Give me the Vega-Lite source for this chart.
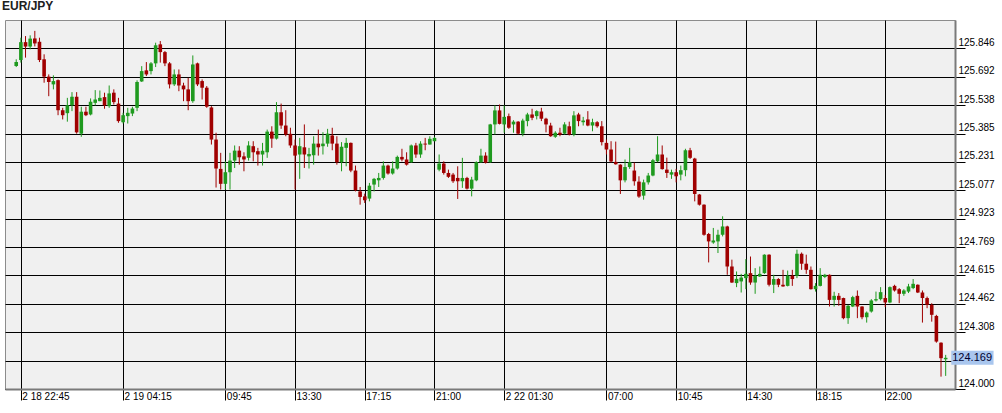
{
  "$schema": "https://vega.github.io/schema/vega-lite/v6.json",
  "width": 950,
  "height": 369,
  "autosize": {"type": "none"},
  "padding": {"left": 5, "top": 20, "right": 47, "bottom": 24},
  "background": "#ffffff",
  "title": {"text": "EUR/JPY", "anchor": "start", "font": "Liberation Sans", "fontSize": 12, "fontWeight": "bold", "color": "#202020", "offset": 7, "dx": -3},
  "config": {
    "view": {"fill": "#f0f0f0", "stroke": "#8c8c8c", "strokeWidth": 1},
    "axis": {"labelFont": "Liberation Sans", "labelFontSize": 10, "labelColor": "#000000", "gridColor": "#000000", "gridOpacity": 1, "gridWidth": 1, "tickColor": "#000000", "tickWidth": 1, "title": null}
  },
  "data": {"values": [
    {"i":0,"o":125.751,"h":125.787,"l":125.745,"c":125.772},
    {"i":1,"o":125.783,"h":125.904,"l":125.769,"c":125.880},
    {"i":2,"o":125.880,"h":125.913,"l":125.796,"c":125.856},
    {"i":3,"o":125.856,"h":125.917,"l":125.841,"c":125.899},
    {"i":4,"o":125.900,"h":125.941,"l":125.857,"c":125.873},
    {"i":5,"o":125.882,"h":125.904,"l":125.772,"c":125.783},
    {"i":6,"o":125.787,"h":125.814,"l":125.660,"c":125.693},
    {"i":7,"o":125.693,"h":125.705,"l":125.587,"c":125.664},
    {"i":8,"o":125.651,"h":125.700,"l":125.624,"c":125.669},
    {"i":9,"o":125.674,"h":125.678,"l":125.484,"c":125.511},
    {"i":10,"o":125.511,"h":125.524,"l":125.461,"c":125.484},
    {"i":11,"o":125.495,"h":125.578,"l":125.449,"c":125.538},
    {"i":12,"o":125.538,"h":125.609,"l":125.506,"c":125.584},
    {"i":13,"o":125.584,"h":125.609,"l":125.384,"c":125.391},
    {"i":14,"o":125.384,"h":125.530,"l":125.367,"c":125.503},
    {"i":15,"o":125.503,"h":125.530,"l":125.479,"c":125.484},
    {"i":16,"o":125.488,"h":125.575,"l":125.483,"c":125.557},
    {"i":17,"o":125.551,"h":125.620,"l":125.537,"c":125.569},
    {"i":18,"o":125.560,"h":125.618,"l":125.560,"c":125.578},
    {"i":19,"o":125.582,"h":125.606,"l":125.519,"c":125.537},
    {"i":20,"o":125.533,"h":125.645,"l":125.524,"c":125.602},
    {"i":21,"o":125.606,"h":125.624,"l":125.542,"c":125.555},
    {"i":22,"o":125.547,"h":125.578,"l":125.443,"c":125.452},
    {"i":23,"o":125.446,"h":125.497,"l":125.439,"c":125.484},
    {"i":24,"o":125.479,"h":125.524,"l":125.439,"c":125.497},
    {"i":25,"o":125.493,"h":125.530,"l":125.479,"c":125.520},
    {"i":26,"o":125.524,"h":125.673,"l":125.506,"c":125.664},
    {"i":27,"o":125.667,"h":125.750,"l":125.664,"c":125.723},
    {"i":28,"o":125.727,"h":125.772,"l":125.696,"c":125.705},
    {"i":29,"o":125.723,"h":125.772,"l":125.705,"c":125.765},
    {"i":30,"o":125.765,"h":125.877,"l":125.745,"c":125.863},
    {"i":31,"o":125.868,"h":125.886,"l":125.769,"c":125.826},
    {"i":32,"o":125.826,"h":125.832,"l":125.750,"c":125.765},
    {"i":33,"o":125.765,"h":125.772,"l":125.629,"c":125.651},
    {"i":34,"o":125.651,"h":125.732,"l":125.642,"c":125.705},
    {"i":35,"o":125.705,"h":125.732,"l":125.614,"c":125.645},
    {"i":36,"o":125.645,"h":125.660,"l":125.560,"c":125.624},
    {"i":37,"o":125.624,"h":125.687,"l":125.511,"c":125.560},
    {"i":38,"o":125.560,"h":125.808,"l":125.551,"c":125.759},
    {"i":39,"o":125.765,"h":125.769,"l":125.642,"c":125.651},
    {"i":40,"o":125.669,"h":125.678,"l":125.569,"c":125.633},
    {"i":41,"o":125.633,"h":125.642,"l":125.524,"c":125.530},
    {"i":42,"o":125.526,"h":125.533,"l":125.325,"c":125.352},
    {"i":43,"o":125.352,"h":125.389,"l":125.092,"c":125.195},
    {"i":44,"o":125.193,"h":125.280,"l":125.081,"c":125.112},
    {"i":45,"o":125.112,"h":125.234,"l":125.081,"c":125.175},
    {"i":46,"o":125.175,"h":125.280,"l":125.081,"c":125.238},
    {"i":47,"o":125.238,"h":125.320,"l":125.198,"c":125.292},
    {"i":48,"o":125.292,"h":125.316,"l":125.216,"c":125.256},
    {"i":49,"o":125.261,"h":125.283,"l":125.180,"c":125.244},
    {"i":50,"o":125.253,"h":125.343,"l":125.238,"c":125.320},
    {"i":51,"o":125.316,"h":125.343,"l":125.234,"c":125.283},
    {"i":52,"o":125.289,"h":125.307,"l":125.211,"c":125.271},
    {"i":53,"o":125.271,"h":125.334,"l":125.211,"c":125.292},
    {"i":54,"o":125.283,"h":125.406,"l":125.253,"c":125.395},
    {"i":55,"o":125.395,"h":125.424,"l":125.307,"c":125.357},
    {"i":56,"o":125.357,"h":125.555,"l":125.352,"c":125.500},
    {"i":57,"o":125.500,"h":125.547,"l":125.410,"c":125.428},
    {"i":58,"o":125.428,"h":125.511,"l":125.370,"c":125.379},
    {"i":59,"o":125.383,"h":125.416,"l":125.307,"c":125.320},
    {"i":60,"o":125.320,"h":125.352,"l":125.081,"c":125.265},
    {"i":61,"o":125.271,"h":125.361,"l":125.139,"c":125.316},
    {"i":62,"o":125.310,"h":125.434,"l":125.198,"c":125.271},
    {"i":63,"o":125.261,"h":125.307,"l":125.195,"c":125.274},
    {"i":64,"o":125.267,"h":125.370,"l":125.216,"c":125.330},
    {"i":65,"o":125.330,"h":125.406,"l":125.265,"c":125.310},
    {"i":66,"o":125.316,"h":125.392,"l":125.271,"c":125.330},
    {"i":67,"o":125.330,"h":125.410,"l":125.313,"c":125.384},
    {"i":68,"o":125.374,"h":125.416,"l":125.294,"c":125.330},
    {"i":69,"o":125.330,"h":125.370,"l":125.216,"c":125.229},
    {"i":70,"o":125.229,"h":125.338,"l":125.180,"c":125.313},
    {"i":71,"o":125.307,"h":125.361,"l":125.207,"c":125.334},
    {"i":72,"o":125.334,"h":125.336,"l":125.175,"c":125.184},
    {"i":73,"o":125.184,"h":125.211,"l":125.071,"c":125.077},
    {"i":74,"o":125.071,"h":125.095,"l":124.999,"c":125.041},
    {"i":75,"o":125.044,"h":125.059,"l":125.008,"c":125.023},
    {"i":76,"o":125.032,"h":125.117,"l":125.017,"c":125.102},
    {"i":77,"o":125.108,"h":125.144,"l":125.071,"c":125.139},
    {"i":78,"o":125.131,"h":125.171,"l":125.095,"c":125.144},
    {"i":79,"o":125.144,"h":125.234,"l":125.135,"c":125.211},
    {"i":80,"o":125.211,"h":125.216,"l":125.162,"c":125.168},
    {"i":81,"o":125.168,"h":125.234,"l":125.162,"c":125.195},
    {"i":82,"o":125.195,"h":125.265,"l":125.189,"c":125.258},
    {"i":83,"o":125.258,"h":125.302,"l":125.234,"c":125.244},
    {"i":84,"o":125.244,"h":125.283,"l":125.211,"c":125.216},
    {"i":85,"o":125.229,"h":125.325,"l":125.226,"c":125.320},
    {"i":86,"o":125.320,"h":125.334,"l":125.253,"c":125.271},
    {"i":87,"o":125.271,"h":125.343,"l":125.253,"c":125.330},
    {"i":88,"o":125.330,"h":125.361,"l":125.294,"c":125.325},
    {"i":89,"o":125.325,"h":125.370,"l":125.325,"c":125.356},
    {"i":90,"o":125.343,"h":125.367,"l":125.343,"c":125.361},
    {"i":91,"o":125.189,"h":125.271,"l":125.180,"c":125.222},
    {"i":92,"o":125.222,"h":125.234,"l":125.162,"c":125.171},
    {"i":93,"o":125.171,"h":125.189,"l":125.144,"c":125.150},
    {"i":94,"o":125.162,"h":125.171,"l":125.117,"c":125.126},
    {"i":95,"o":125.144,"h":125.207,"l":125.030,"c":125.126},
    {"i":96,"o":125.126,"h":125.253,"l":125.090,"c":125.144},
    {"i":97,"o":125.144,"h":125.150,"l":125.081,"c":125.086},
    {"i":98,"o":125.086,"h":125.150,"l":125.044,"c":125.135},
    {"i":99,"o":125.131,"h":125.234,"l":125.126,"c":125.229},
    {"i":100,"o":125.229,"h":125.302,"l":125.226,"c":125.265},
    {"i":101,"o":125.265,"h":125.283,"l":125.222,"c":125.226},
    {"i":102,"o":125.229,"h":125.437,"l":125.226,"c":125.434},
    {"i":103,"o":125.434,"h":125.537,"l":125.379,"c":125.510},
    {"i":104,"o":125.510,"h":125.542,"l":125.434,"c":125.437},
    {"i":105,"o":125.434,"h":125.537,"l":125.389,"c":125.475},
    {"i":106,"o":125.479,"h":125.493,"l":125.410,"c":125.416},
    {"i":107,"o":125.434,"h":125.457,"l":125.389,"c":125.449},
    {"i":108,"o":125.449,"h":125.452,"l":125.379,"c":125.384},
    {"i":109,"o":125.384,"h":125.465,"l":125.370,"c":125.455},
    {"i":110,"o":125.452,"h":125.497,"l":125.424,"c":125.488},
    {"i":111,"o":125.488,"h":125.519,"l":125.457,"c":125.470},
    {"i":112,"o":125.479,"h":125.511,"l":125.461,"c":125.506},
    {"i":113,"o":125.504,"h":125.524,"l":125.452,"c":125.465},
    {"i":114,"o":125.465,"h":125.470,"l":125.391,"c":125.434},
    {"i":115,"o":125.428,"h":125.443,"l":125.367,"c":125.370},
    {"i":116,"o":125.367,"h":125.397,"l":125.361,"c":125.389},
    {"i":117,"o":125.389,"h":125.416,"l":125.370,"c":125.379},
    {"i":118,"o":125.384,"h":125.446,"l":125.379,"c":125.434},
    {"i":119,"o":125.424,"h":125.449,"l":125.374,"c":125.379},
    {"i":120,"o":125.379,"h":125.506,"l":125.370,"c":125.483},
    {"i":121,"o":125.488,"h":125.497,"l":125.424,"c":125.452},
    {"i":122,"o":125.446,"h":125.475,"l":125.428,"c":125.455},
    {"i":123,"o":125.461,"h":125.506,"l":125.424,"c":125.428},
    {"i":124,"o":125.428,"h":125.465,"l":125.397,"c":125.446},
    {"i":125,"o":125.446,"h":125.452,"l":125.416,"c":125.424},
    {"i":126,"o":125.424,"h":125.452,"l":125.320,"c":125.338},
    {"i":127,"o":125.334,"h":125.352,"l":125.271,"c":125.298},
    {"i":128,"o":125.298,"h":125.343,"l":125.227,"c":125.233},
    {"i":129,"o":125.231,"h":125.341,"l":125.216,"c":125.218},
    {"i":130,"o":125.216,"h":125.218,"l":125.057,"c":125.131},
    {"i":131,"o":125.131,"h":125.244,"l":125.120,"c":125.203},
    {"i":132,"o":125.203,"h":125.307,"l":125.193,"c":125.229},
    {"i":133,"o":125.184,"h":125.227,"l":125.102,"c":125.126},
    {"i":134,"o":125.124,"h":125.153,"l":125.036,"c":125.043},
    {"i":135,"o":125.048,"h":125.135,"l":125.026,"c":125.120},
    {"i":136,"o":125.120,"h":125.171,"l":125.108,"c":125.157},
    {"i":137,"o":125.157,"h":125.247,"l":125.153,"c":125.240},
    {"i":138,"o":125.234,"h":125.370,"l":125.229,"c":125.271},
    {"i":139,"o":125.271,"h":125.320,"l":125.189,"c":125.192},
    {"i":140,"o":125.189,"h":125.254,"l":125.144,"c":125.171},
    {"i":141,"o":125.162,"h":125.189,"l":125.139,"c":125.175},
    {"i":142,"o":125.175,"h":125.193,"l":125.120,"c":125.153},
    {"i":143,"o":125.162,"h":125.211,"l":125.131,"c":125.186},
    {"i":144,"o":125.186,"h":125.302,"l":125.153,"c":125.294},
    {"i":145,"o":125.294,"h":125.307,"l":125.247,"c":125.253},
    {"i":146,"o":125.249,"h":125.253,"l":125.017,"c":125.057},
    {"i":147,"o":125.054,"h":125.057,"l":124.994,"c":124.999},
    {"i":148,"o":124.999,"h":125.001,"l":124.831,"c":124.836},
    {"i":149,"o":124.840,"h":124.846,"l":124.686,"c":124.800},
    {"i":150,"o":124.794,"h":124.873,"l":124.787,"c":124.805},
    {"i":151,"o":124.800,"h":124.863,"l":124.737,"c":124.836},
    {"i":152,"o":124.836,"h":124.936,"l":124.827,"c":124.881},
    {"i":153,"o":124.881,"h":124.885,"l":124.619,"c":124.664},
    {"i":154,"o":124.664,"h":124.701,"l":124.575,"c":124.577},
    {"i":155,"o":124.574,"h":124.637,"l":124.552,"c":124.597},
    {"i":156,"o":124.583,"h":124.624,"l":124.523,"c":124.604},
    {"i":157,"o":124.601,"h":124.704,"l":124.541,"c":124.624},
    {"i":158,"o":124.628,"h":124.718,"l":124.565,"c":124.577},
    {"i":159,"o":124.577,"h":124.655,"l":124.516,"c":124.614},
    {"i":160,"o":124.610,"h":124.664,"l":124.607,"c":124.624},
    {"i":161,"o":124.628,"h":124.730,"l":124.624,"c":124.728},
    {"i":162,"o":124.728,"h":124.730,"l":124.556,"c":124.565},
    {"i":163,"o":124.565,"h":124.619,"l":124.520,"c":124.596},
    {"i":164,"o":124.596,"h":124.601,"l":124.552,"c":124.565},
    {"i":165,"o":124.565,"h":124.646,"l":124.554,"c":124.556},
    {"i":166,"o":124.559,"h":124.642,"l":124.556,"c":124.614},
    {"i":167,"o":124.614,"h":124.646,"l":124.559,"c":124.596},
    {"i":168,"o":124.614,"h":124.755,"l":124.601,"c":124.733},
    {"i":169,"o":124.733,"h":124.740,"l":124.646,"c":124.679},
    {"i":170,"o":124.679,"h":124.728,"l":124.624,"c":124.646},
    {"i":171,"o":124.646,"h":124.664,"l":124.539,"c":124.541},
    {"i":172,"o":124.541,"h":124.574,"l":124.528,"c":124.559},
    {"i":173,"o":124.559,"h":124.655,"l":124.556,"c":124.619},
    {"i":174,"o":124.607,"h":124.624,"l":124.601,"c":124.619},
    {"i":175,"o":124.619,"h":124.621,"l":124.447,"c":124.483},
    {"i":176,"o":124.483,"h":124.527,"l":124.447,"c":124.505},
    {"i":177,"o":124.505,"h":124.520,"l":124.451,"c":124.483},
    {"i":178,"o":124.493,"h":124.495,"l":124.378,"c":124.384},
    {"i":179,"o":124.384,"h":124.456,"l":124.353,"c":124.451},
    {"i":180,"o":124.447,"h":124.505,"l":124.444,"c":124.498},
    {"i":181,"o":124.505,"h":124.534,"l":124.384,"c":124.447},
    {"i":182,"o":124.447,"h":124.449,"l":124.378,"c":124.389},
    {"i":183,"o":124.389,"h":124.420,"l":124.360,"c":124.414},
    {"i":184,"o":124.420,"h":124.487,"l":124.414,"c":124.480},
    {"i":185,"o":124.480,"h":124.528,"l":124.474,"c":124.487},
    {"i":186,"o":124.487,"h":124.552,"l":124.480,"c":124.525},
    {"i":187,"o":124.493,"h":124.510,"l":124.444,"c":124.469},
    {"i":188,"o":124.469,"h":124.556,"l":124.465,"c":124.552},
    {"i":189,"o":124.559,"h":124.565,"l":124.528,"c":124.534},
    {"i":190,"o":124.541,"h":124.547,"l":124.465,"c":124.516},
    {"i":191,"o":124.516,"h":124.541,"l":124.505,"c":124.534},
    {"i":192,"o":124.528,"h":124.570,"l":124.520,"c":124.556},
    {"i":193,"o":124.547,"h":124.596,"l":124.541,"c":124.570},
    {"i":194,"o":124.565,"h":124.567,"l":124.520,"c":124.523},
    {"i":195,"o":124.523,"h":124.534,"l":124.360,"c":124.493},
    {"i":196,"o":124.493,"h":124.501,"l":124.438,"c":124.456},
    {"i":197,"o":124.456,"h":124.465,"l":124.365,"c":124.402},
    {"i":198,"o":124.396,"h":124.402,"l":124.251,"c":124.257},
    {"i":199,"o":124.251,"h":124.253,"l":124.067,"c":124.167},
    {"i":200,"o":124.161,"h":124.185,"l":124.071,"c":124.169}
  ]},
  "layer": [
    {
      "mark": {"type": "rule", "strokeWidth": 1},
      "encoding": {
        "x": {"field": "i", "type": "quantitative",
          "scale": {"domain": [-1.34, 200.93], "nice": false, "zero": false},
          "axis": {"values": [1, 23, 45, 60, 75, 90, 105, 127, 142, 157, 172, 187], "tickCount": 40,
            "labelExpr": "['2 18 22:45','2 19 04:15','09:45','13:30','17:15','21:00','2 22 01:30','07:00','10:45','14:30','18:15','22:00'][indexof([1,23,45,60,75,90,105,127,142,157,172,187], datum.value)]",
            "grid": true, "domain": true, "domainColor": "#7a7a7a", "domainWidth": 2,
            "ticks": true, "tickSize": 11, "labelAlign": "left", "labelBaseline": "top",
            "labelPadding": -9, "labelOffset": 1, "labelFlush": false, "labelOverlap": false}},
        "y": {"field": "l", "type": "quantitative",
          "scale": {"domain": [124, 126], "nice": false, "zero": false},
          "axis": {"orient": "right", "tickCount": 40,
            "values": [124, 124.15384615, 124.30769231, 124.46153846, 124.61538462, 124.76923077, 124.92307692, 125.07692308, 125.23076923, 125.38461538, 125.53846154, 125.69230769, 125.84615385],
            "labelExpr": "abs(datum.value - 124.1538) < 0.001 ? '' : format(datum.value, '.3f')",
            "grid": true, "domain": true, "domainColor": "#7a7a7a", "domainWidth": 2,
            "ticks": true, "tickSize": 10, "labelAlign": "left", "labelBaseline": "bottom",
            "labelPadding": -7, "labelOffset": -1, "labelFlush": false, "labelOverlap": false}},
        "y2": {"field": "h"},
        "color": {"condition": {"test": "datum.c > datum.o", "value": "#1f9a1f"}, "value": "#a00000"}
      }
    },
    {
      "mark": {"type": "bar", "size": 3.6, "orient": "vertical"},
      "encoding": {
        "x": {"field": "i", "type": "quantitative"},
        "y": {"field": "o", "type": "quantitative"},
        "y2": {"field": "c"},
        "color": {"condition": {"test": "datum.c > datum.o", "value": "#1f9a1f"}, "value": "#a00000"}
      }
    },
    {
      "data": {"values": [{"p": 124.169}]},
      "mark": {"type": "rect", "height": 14, "color": "#a9c6ee"},
      "encoding": {
        "x": {"datum": 201.2, "type": "quantitative"},
        "x2": {"datum": 210.3},
        "y": {"field": "p", "type": "quantitative"}
      }
    },
    {
      "data": {"values": [{"p": 124.169}]},
      "mark": {"type": "text", "align": "left", "baseline": "middle", "font": "Liberation Sans", "fontSize": 11, "color": "#000030", "dx": 1},
      "encoding": {
        "x": {"datum": 201.2, "type": "quantitative"},
        "y": {"field": "p", "type": "quantitative"},
        "text": {"field": "p", "type": "quantitative", "format": ".3f"}
      }
    }
  ]
}
